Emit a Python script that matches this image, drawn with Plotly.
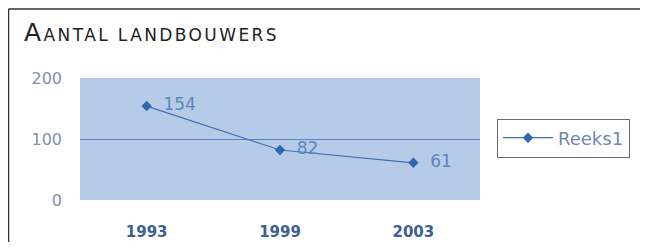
import plotly.graph_objects as go

years = ["1993", "1999", "2003"]
values = [154, 82, 61]
y_ticks = [0, 100, 200]
series_name = "Reeks1"
title_text = "Aantal landbouwers"

OFF = 8  # browser body margin
W, H = 648 - 2 * OFF, 250 - 2 * OFF
L, R, T, B = 80 - OFF, W - (480 - OFF), 78 - OFF, H - (200 - OFF)
pw, ph = W - L - R, H - T - B

def px_x(x):
    return (x - OFF - L) / pw

def px_y(y):
    return (H - B - (y - OFF)) / ph

def small_caps(s, big=25, small=17, spacing=2.4):
    out = []
    for ch in s:
        if ch.isupper():
            out.append(f"<span style='font-size:{big}px;letter-spacing:{spacing}px'>{ch}</span>")
        else:
            out.append(f"<span style='font-size:{small}px;letter-spacing:{spacing}px'>{ch.upper()}</span>")
    return "".join(out)

fig = go.Figure()
fig.add_trace(go.Scatter(
    x=years, y=values, name=series_name,
    mode="lines+markers+text",
    text=["  " + str(v) for v in values],
    textposition="middle right",
    textfont=dict(family="DejaVu Sans", size=17, color="#5c86c0"),
    line=dict(color="#3f70b2", width=1.2),
    marker=dict(symbol="diamond", size=8, color="#2f68b0"),
))

fig.update_layout(
    width=W, height=H,
    margin=dict(l=L, r=R, t=T, b=B, autoexpand=False),
    paper_bgcolor="white",
    plot_bgcolor="#b6cbe8",
    showlegend=True,
    legend=dict(
        x=px_x(497), y=px_y(138), xanchor="left", yanchor="middle",
        bordercolor="#6a6a6a", borderwidth=1, bgcolor="white",
        font=dict(family="DejaVu Sans", size=18, color="#7088b0"),
        itemwidth=50,
    ),
    xaxis=dict(
        type="category", range=[-0.5, 2.5], automargin=False,
        showgrid=False, zeroline=False, showline=False,
        ticks="", ticklabelstandoff=21,
        tickfont=dict(family="DejaVu Sans", size=15, color="#3d5f93", weight="bold"),
    ),
    yaxis=dict(
        range=[0, 200], tickvals=y_ticks, automargin=False,
        showgrid=True, gridcolor="#5a86bf", gridwidth=1,
        zeroline=False, showline=False,
        ticks="", ticklabelstandoff=17,
        tickfont=dict(family="DejaVu Sans", size=16, color="#8090b0"),
    ),
    font=dict(family="DejaVu Sans"),
)

# frame: top and left edges (right/bottom lie off-page)
frame_line = dict(color="#333333", width=1.5)
fig.add_shape(type="line", xref="paper", yref="paper",
              x0=px_x(8.5), x1=px_x(720), y0=px_y(9), y1=px_y(9), line=frame_line)
fig.add_shape(type="line", xref="paper", yref="paper",
              x0=px_x(8.5), x1=px_x(8.5), y0=px_y(9), y1=px_y(320), line=frame_line)

fig.add_annotation(
    text=small_caps(title_text), xref="paper", yref="paper",
    x=px_x(22), y=px_y(33), xanchor="left", yanchor="middle",
    showarrow=False,
    font=dict(family="DejaVu Sans", size=17, color="#222222"),
)

fig.write_html("out.html")
